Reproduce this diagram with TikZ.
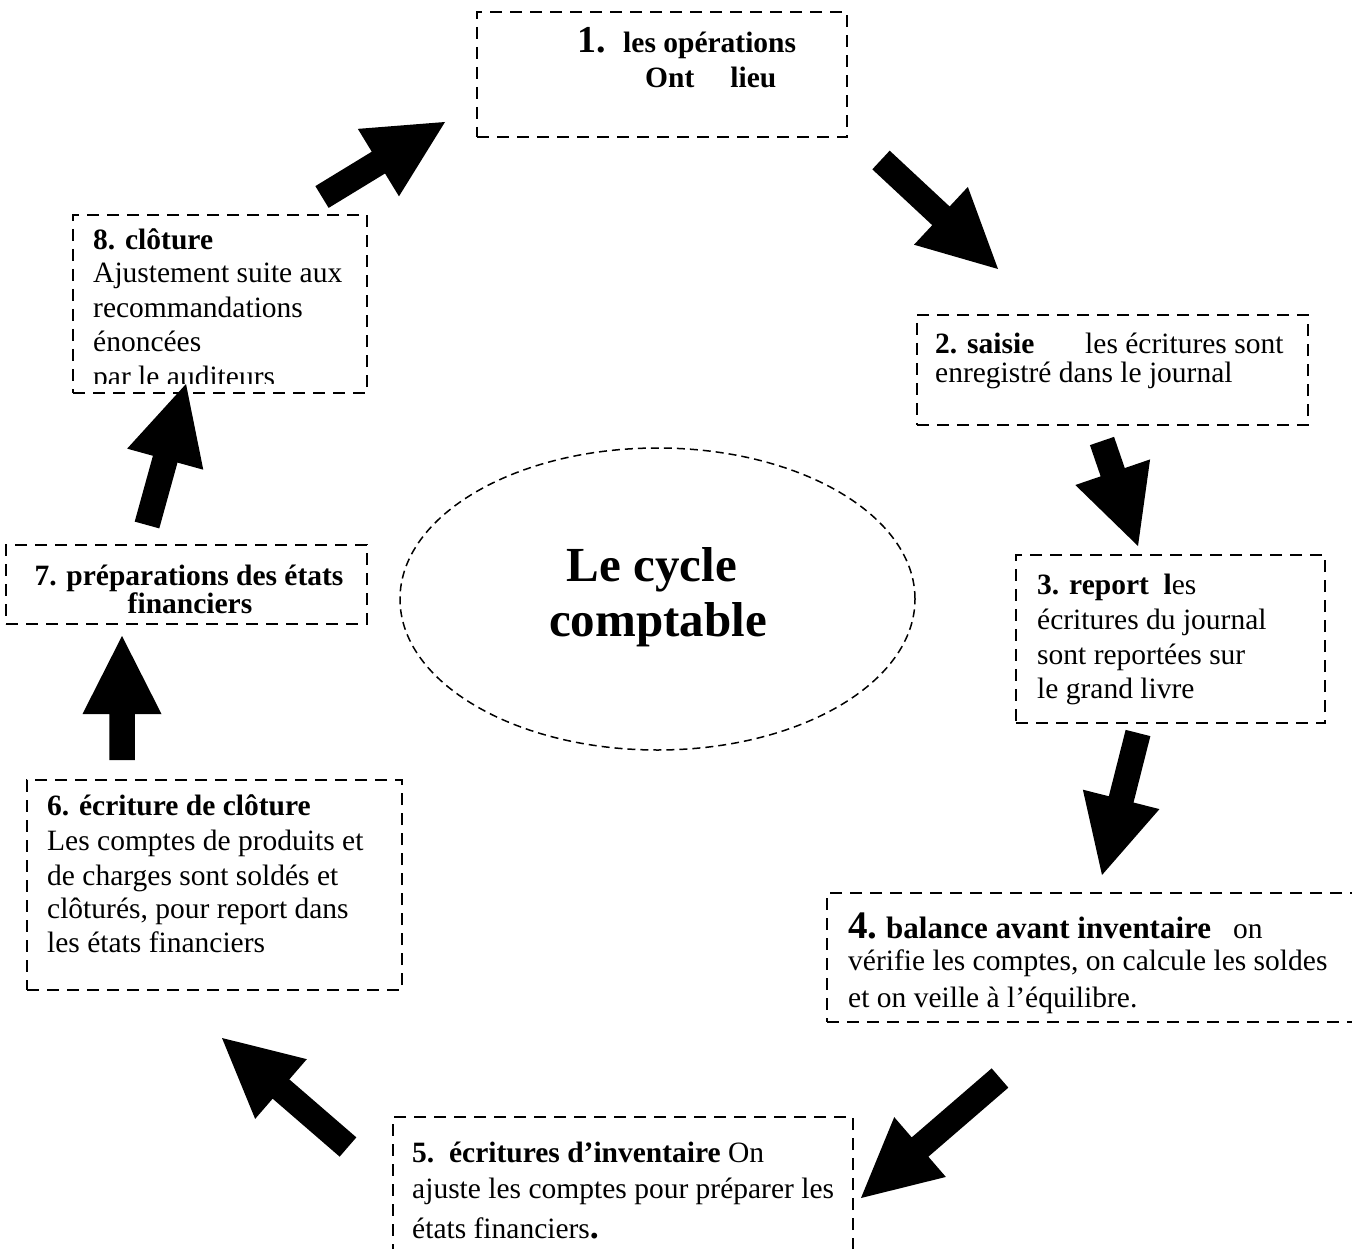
\documentclass[tikz,border=0pt]{standalone}
\usepackage{fontspec}
\setmainfont{Liberation Serif}
\usetikzlibrary{calc,shapes.geometric}
\tikzset{
  box/.style={draw, rectangle, inner sep=0pt, line width=2.6pt, dash pattern=on 12pt off 8pt},
  tx/.style={anchor=base west, inner sep=0pt, font=\fontsize{29.5}{34}\selectfont},
  txb/.style={tx, font=\fontsize{29.5}{34}\selectfont\bfseries},
  txc/.style={anchor=base, inner sep=0pt, font=\fontsize{29.5}{34}\selectfont\bfseries},
  oval/.style={draw, ellipse, inner sep=0pt, line width=1.5pt, dash pattern=on 8pt off 5pt},
  bigt/.style={anchor=base, inner sep=0pt, font=\fontsize{49}{55}\selectfont\bfseries},
}
\newcommand{\blockarr}[2]{%
  \coordinate (bb) at ($(#2)!78pt!(#1)$);
  \fill ($(#1)!12.75pt!90:(#2)$) -- ($(bb)!12.75pt!90:(#2)$) -- ($(bb)!39.5pt!90:(#2)$) -- (#2)
     -- ($(bb)!39.5pt!-90:(#2)$) -- ($(bb)!12.75pt!-90:(#2)$) -- ($(#1)!12.75pt!-90:(#2)$) -- cycle;
}
\begin{document}
\begin{tikzpicture}[x=1pt,y=-1pt]
\useasboundingbox[fill=white] (0,0) rectangle (1352,1249);

% boxes
\node[box, minimum width=370pt, minimum height=125pt] (b1) at (662,74.5) {};
\node[box, minimum width=391pt, minimum height=110pt] (b2) at (1112.5,370) {};
\node[box, minimum width=309pt, minimum height=168pt] (b3) at (1170.5,639) {};
\node[box, minimum width=543pt, minimum height=129pt] (b4) at (1098.5,957.5) {};
\node[box, minimum width=460pt, minimum height=153pt] (b5) at (623,1193.5) {};
\node[box, minimum width=375pt, minimum height=210pt] (b6) at (214.5,885) {};
\node[box, minimum width=361pt, minimum height=79pt] (b7) at (186.5,584.5) {};
\node[box, minimum width=294pt, minimum height=178pt] (b8) at (220,304) {};
\node[oval, minimum width=515pt, minimum height=302pt] (ell) at (657.5,599) {};

% box 1
\node[tx, font=\fontsize{38}{40}\selectfont\bfseries] (t1n) at (577,53) {1.};
\node[txb] (t1a) at (623,53) {les opérations};
\node[txb] (t1b) at (645,88) {Ont\hspace{36pt}lieu};

% box 2
\node[txb] (t2a) at (935,353) {2. saisie};
\node[tx] (t2b) at (1085,353) {les écritures sont};
\node[tx] (t2c) at (935,382) {enregistré dans le journal};

% box 3
\node[tx] (t3a) at (1037,594) {\textbf{3. report\ \ l}es};
\node[tx] (t3b) at (1037,629) {écritures du journal};
\node[tx] (t3c) at (1037,664) {sont reportées sur};
\node[tx] (t3d) at (1037,698) {le grand livre};

% box 4
\node[tx, font=\fontsize{39}{40}\selectfont\bfseries] (t4n) at (848,938) {4.};
\node[tx, font=\fontsize{31}{34}\selectfont\bfseries] (t4a) at (886,938) {balance avant inventaire};
\node[tx] (t4b) at (1233,938) {on};
\node[tx] (t4c) at (848,970) {vérifie les comptes, on calcule les soldes};
\node[tx] (t4d) at (848,1007) {et on veille à l’équilibre.};

% box 5
\node[tx] (t5a) at (412,1162) {\textbf{5.\ \ écritures d’inventaire} On};
\node[tx] (t5b) at (412,1198) {ajuste les comptes pour préparer les};
\node[tx] (t5c) at (412,1238) {états financiers\textbf{\fontsize{36}{36}\selectfont .}};

% box 6
\node[txb] (t6a) at (47,815) {6. écriture de clôture};
\node[tx] (t6b) at (47,850) {Les comptes de produits et};
\node[tx] (t6c) at (47,885) {de charges sont soldés et};
\node[tx] (t6d) at (47,918) {clôturés, pour report dans};
\node[tx] (t6e) at (47,952) {les états financiers};

% box 7
\node[txc] (t7a) at (189,585) {7. préparations des états};
\node[txc] (t7b) at (190,613) {financiers};

% box 8
\node[txb] (t8a) at (93,250) {8. clôture};
\node[tx] (t8b) at (93,283) {Ajustement suite aux};
\node[tx] (t8c) at (93,318) {recommandations};
\node[tx] (t8d) at (93,352) {énoncées};
\begin{scope}
  \clip (73,215) rectangle (367,383);
  \node[tx] (t8e) at (93,386) {par le auditeurs};
\end{scope}

% centre
\node[bigt] (c1) at (652,581) {Le cycle};
\node[bigt] (c2) at (658,636) {comptable};

% arrows
\coordinate (a1s) at (881,160);   \coordinate (a1e) at (998,269);
\coordinate (a2s) at (1102,441);  \coordinate (a2e) at (1138,546);
\coordinate (a3s) at (1138,733);  \coordinate (a3e) at (1102,875);
\coordinate (a4s) at (1000,1078); \coordinate (a4e) at (861,1198);
\coordinate (a5s) at (348,1147);  \coordinate (a5e) at (222,1038);
\coordinate (a6s) at (122,760);   \coordinate (a6e) at (122,636);
\coordinate (a7s) at (147,525);   \coordinate (a7e) at (186,384);
\coordinate (a8s) at (322,197);   \coordinate (a8e) at (445,122);
\blockarr{a1s}{a1e}
\blockarr{a2s}{a2e}
\blockarr{a3s}{a3e}
\blockarr{a4s}{a4e}
\blockarr{a5s}{a5e}
\blockarr{a6s}{a6e}
\blockarr{a7s}{a7e}
\blockarr{a8s}{a8e}
\end{tikzpicture}
\end{document}
